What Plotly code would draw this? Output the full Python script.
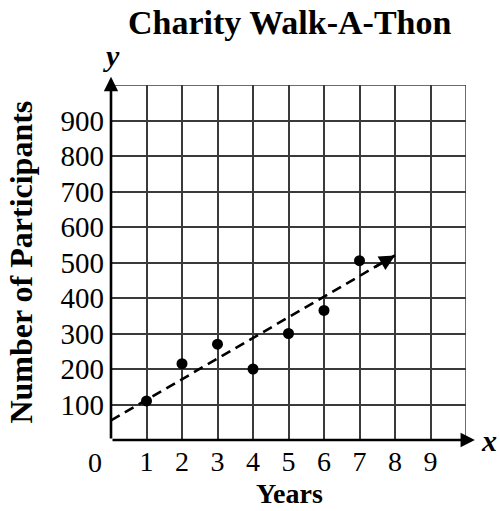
import plotly.graph_objects as go

years = [1, 2, 3, 4, 5, 6, 7]
participants = [110, 215, 270, 200, 300, 365, 505]
trend_x = [0, 8]
trend_y = [55, 520]
x_ticks = [1, 2, 3, 4, 5, 6, 7, 8, 9]
y_ticks = [100, 200, 300, 400, 500, 600, 700, 800, 900]

FONT = "Liberation Serif"
fig = go.Figure()

fig.add_trace(go.Scatter(
    x=trend_x, y=trend_y, mode="lines",
    line=dict(color="black", width=2.6, dash="10px,6px"),
    hoverinfo="skip", showlegend=False))
fig.add_trace(go.Scatter(
    x=years, y=participants, mode="markers",
    marker=dict(color="black", size=11),
    showlegend=False, cliponaxis=False))

# arrowhead on trend line
fig.add_annotation(x=trend_x[1], y=trend_y[1], ax=trend_x[1] - 0.6,
                   ay=trend_y[1] - 0.6 * (trend_y[1] - trend_y[0]) / (trend_x[1] - trend_x[0]),
                   xref="x", yref="y", axref="x", ayref="y", text="",
                   showarrow=True, arrowhead=2, arrowsize=1.2, arrowwidth=2.6, arrowcolor="black")
# axis arrows
fig.add_annotation(x=10.25, y=0, ax=0, ay=0, xref="x", yref="y", axref="x", ayref="y",
                   text="", showarrow=True, arrowhead=2, arrowsize=1.1, arrowwidth=2.6,
                   arrowcolor="black")
fig.add_annotation(x=0, y=1023, ax=0, ay=0, xref="x", yref="y", axref="x", ayref="y",
                   text="", showarrow=True, arrowhead=2, arrowsize=1.1, arrowwidth=2.6,
                   arrowcolor="black")

def txt(x, y, text, size, **kw):
    fig.add_annotation(x=x, y=y, xref="paper", yref="paper", text=text, showarrow=False,
                       font=dict(family=FONT, size=size, color="black"), **kw)

txt(0.504, 1.177, "<b>Charity Walk-A-Thon</b>", 34, xanchor="center", yanchor="middle")
txt(1.037, 0.0, "<b><i>x</i></b>", 30, xanchor="left", yanchor="middle")
txt(0.0, 1.03, "<b><i>y</i></b>", 30, xanchor="center", yanchor="bottom")
txt(-0.045, -0.062, "0", 28, xanchor="center", yanchor="middle")
txt(0.504, -0.152, "<b>Years</b>", 28, xanchor="center", yanchor="middle", borderpad=0)
txt(-0.256, 0.5, "<b>Number of Participants</b>", 32, xanchor="center", yanchor="middle",
    textangle=-90)

fig.update_layout(
    width=500, height=511,
    margin=dict(l=111, r=34, t=85, b=71),
    paper_bgcolor="white", plot_bgcolor="white",
    xaxis=dict(range=[0, 10], tickvals=x_ticks, ticktext=[str(v) for v in x_ticks],
               showgrid=True, gridcolor="#3a3a3a", gridwidth=1.5, zeroline=False,
               showline=False, ticks="", automargin=False, ticklabelstandoff=2,
               tickfont=dict(family=FONT, size=28, color="black"), fixedrange=True),
    yaxis=dict(range=[0, 1000], tickvals=y_ticks, ticktext=[str(v) for v in y_ticks],
               showgrid=True, gridcolor="#3a3a3a", gridwidth=1.5, zeroline=False,
               showline=False, ticks="", automargin=False, ticklabelstandoff=6,
               tickfont=dict(family=FONT, size=29, color="black"), fixedrange=True),
)
fig.add_shape(type="line", x0=10, x1=10, y0=0, y1=1000, xref="x", yref="y",
              line=dict(color="#3a3a3a", width=1.5), layer="below")
fig.add_shape(type="line", x0=0, x1=10, y0=1000, y1=1000, xref="x", yref="y",
              line=dict(color="#3a3a3a", width=1.5), layer="below")

fig.write_html("out.html", config={"displayModeBar": False},
               post_script="document.body.style.margin='0';document.body.style.overflow='hidden';")
